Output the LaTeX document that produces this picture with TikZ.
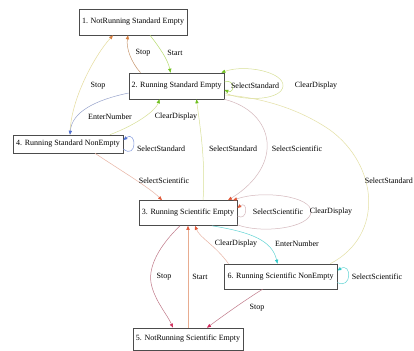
\documentclass[tikz,border=0pt]{standalone}
\usepackage{fontspec}
\setmainfont{Liberation Serif}
\usetikzlibrary{arrows.meta,calc}
\definecolor{cGreen}{HTML}{B8DC70}
\definecolor{cGreenTip}{HTML}{70C020}
\definecolor{cBrown}{HTML}{C89870}
\definecolor{cOrangeTip}{HTML}{D88040}
\definecolor{cPaleYel}{HTML}{E6DC9C}
\definecolor{cBlueLine}{HTML}{98A4CC}
\definecolor{cBlueTip}{HTML}{5070D0}
\definecolor{cYelGreen}{HTML}{D8E098}
\definecolor{cSalmon}{HTML}{E8B4A4}
\definecolor{cRedTip}{HTML}{E05838}
\definecolor{cPinkGray}{HTML}{D4B8BC}
\definecolor{cYellow}{HTML}{E4E0A4}
\definecolor{cCyan}{HTML}{60D4D4}
\definecolor{cCyanTip}{HTML}{30C8C8}
\definecolor{cPlum}{HTML}{C07888}
\definecolor{cCrimson}{HTML}{D02858}
\definecolor{cOrangeLine}{HTML}{E8AC90}
\begin{document}
\begin{tikzpicture}[x=1pt,y=-1pt,
  state/.style={draw=black!70,line width=0.6pt,fill=white,inner sep=0pt,font=\fontsize{8}{9}\selectfont},
  lbl/.style={font=\fontsize{8}{9}\selectfont,inner sep=0pt},
  edge/.style={line width=0.5pt},
  tip/.style={-{Triangle[length=4pt,width=3.2pt,color=#1]}},
]
\clip (0,0) rectangle (414,350);
\fill[white] (0,0) rectangle (414,350);
% states
\node[state,minimum width=108pt,minimum height=26pt] (n1) at (133,22) {1. NotRunning Standard Empty};
\node[state,minimum width=95pt,minimum height=26pt] (n2) at (176.5,86) {2. Running Standard Empty};
\node[state,minimum width=110pt,minimum height=18pt] (n4) at (68,144) {4. Running Standard NonEmpty};
\node[state,minimum width=98pt,minimum height=25pt] (n3) at (188,213) {3. Running Scientific Empty};
\node[state,minimum width=113pt,minimum height=25pt] (n6) at (280.5,276.5) {6. Running Scientific NonEmpty};
\node[state,minimum width=110pt,minimum height=22pt] (n5) at (188,339) {5. NotRunning Scientific Empty};
% named points
\coordinate (n1s1) at ($(n1.south)+(17,0)$);
\coordinate (n1s2) at ($(n1.south)+(-5,0)$);
\coordinate (n1s3) at ($(n1.south)+(-20,0)$);
\coordinate (n2t1) at ($(n2.north)+(-6,0)$);
\coordinate (n2t2) at ($(n2.north)+(-36,0)$);
\coordinate (n2t3) at ($(n2.north east)+(-3,0)$);
\coordinate (n2l) at ($(n2.west)+(0,7)$);
\coordinate (n2b1) at ($(n2.south)+(-17,0)$);
\coordinate (n2b2) at ($(n2.south)+(20,0)$);
\coordinate (n2b3) at ($(n2.south east)+(0,0)$);
\coordinate (n2r1) at ($(n2.east)+(0,-4)$);
\coordinate (n2r2) at ($(n2.east)+(0,4)$);
\coordinate (n2r3) at ($(n2.east)+(1,7)$);
\coordinate (n2r4) at ($(n2.east)+(1,9)$);
\coordinate (n4t1) at ($(n4.north)+(2,0)$);
\coordinate (n4t2) at ($(n4.north)+(42,0)$);
\coordinate (n4b) at ($(n4.south)+(27,0)$);
\coordinate (n4r1) at ($(n4.east)+(0,5)$);
\coordinate (n4r2) at ($(n4.east)+(0,-4)$);
\coordinate (n3t1) at ($(n3.north)+(-26,0)$);
\coordinate (n3t2) at ($(n3.north)+(15,0)$);
\coordinate (n3t3) at ($(n3.north)+(40,0)$);
\coordinate (n3t4) at ($(n3.north)+(45,0)$);
\coordinate (n3r1) at ($(n3.east)+(0,-5)$);
\coordinate (n3r2) at ($(n3.east)+(0,3)$);
\coordinate (n3br) at ($(n3.south east)+(0,-1)$);
\coordinate (n3b1) at ($(n3.south)+(-8,0)$);
\coordinate (n3b2) at ($(n3.south)+(0,0)$);
\coordinate (n3b3) at ($(n3.south)+(7,0)$);
\coordinate (n3b4) at ($(n3.south)+(24,0)$);
\coordinate (n6t1) at ($(n6.north)+(-52,0)$);
\coordinate (n6t2) at ($(n6.north)+(-3,0)$);
\coordinate (n6t3) at ($(n6.north east)+(-7,0)$);
\coordinate (n6r1) at ($(n6.east)+(0,-6)$);
\coordinate (n6r2) at ($(n6.east)+(0,6)$);
\coordinate (n6b) at ($(n6.south)+(-18,0)$);
\coordinate (n5t1) at ($(n5.north)+(-15,0)$);
\coordinate (n5t2) at ($(n5.north)+(0,0)$);
\coordinate (n5t3) at ($(n5.north)+(19,0)$);
% edges
\draw[edge,draw=cGreen,tip={cGreenTip}] (n1s1) .. controls (160,48) and (168,60) .. (n2t1);
\draw[edge,draw=cBrown,tip={cOrangeTip}] (n2t2) .. controls (131,62) and (126,48) .. (n1s2);
\draw[edge,draw=cPaleYel,tip={cOrangeTip}] (n4t1) .. controls (70,100) and (95,55) .. (n1s3);
\draw[edge,draw=cBlueLine,tip={cBlueTip}] (n2l) .. controls (95,100) and (72,112) .. (n4t1);
\draw[edge,draw=cYelGreen,tip={cGreenTip}] (n4t2) .. controls (138,124) and (156,110) .. (n2b1);
\draw[edge,draw=cGreen,tip={cGreenTip}] (n2r1) .. controls (235,78) and (235,94) .. (n2r2);
\draw[edge,draw=cYelGreen,tip={cGreenTip}] (n2r3) .. controls (245,102) and (282,100) .. (283,86) .. controls (284,72) and (245,64) .. (n2t3);
\draw[edge,draw=cBlueTip!70,tip={cBlueTip}] (n4r1) .. controls (137,160) and (137,130) .. (n4r2);
\draw[edge,draw=cSalmon,tip={cRedTip}] (n4b) .. controls (120,170) and (150,188) .. (n3t1);
\draw[edge,draw=cYelGreen,tip={cGreenTip}] (n3t2) .. controls (206,160) and (199,120) .. (n2b2);
\draw[edge,draw=cPinkGray,tip={cRedTip}] (n2b3) .. controls (275,112) and (285,165) .. (n3t3);
\draw[edge,draw=cYellow] (n6t3) .. controls (385,235) and (378,165) .. (330,130) .. controls (295,106) and (255,97) .. (n2r4);
\draw[edge,draw=cPinkGray,tip={cRedTip}] (n3r2) .. controls (248,222) and (248,200) .. (n3r1);
\draw[edge,draw=cPinkGray,tip={cRedTip}] (n3br) .. controls (262,234) and (310,228) .. (311,212) .. controls (312,196) and (262,190) .. (n3t4);
\draw[edge,draw=cSalmon,tip={cRedTip}] (n6t1) .. controls (215,245) and (200,238) .. (n3b3);
\draw[edge,draw=cCyan,tip={cCyanTip}] (n3b4) .. controls (250,232) and (272,240) .. (n6t2);
\draw[edge,draw=cCyan,tip={cCyanTip}] (n6r2) .. controls (352,290) and (352,262) .. (n6r1);
\draw[edge,draw=cPlum,tip={cCrimson}] (n3b1) .. controls (160,245) and (146,268) .. (152,287) .. controls (156,302) and (168,316) .. (n5t1);
\draw[edge,draw=cOrangeLine,tip={cRedTip}] (n5t2) -- (n3b2);
\draw[edge,draw=cPlum,tip={cCrimson}] (n6b) .. controls (245,300) and (220,318) .. (n5t3);
% labels
\node[lbl] (l1) at (175,53) {Start};
\node[lbl] (l2) at (143,53) {Stop};
\node[lbl] (l3) at (98,86) {Stop};
\node[lbl] (l4) at (110,117) {EnterNumber};
\node[lbl] (l5) at (176,117) {ClearDisplay};
\node[lbl] (l6) at (255,86) {SelectStandard};
\node[lbl] (l7) at (316,86) {ClearDisplay};
\node[lbl] (l8) at (161,149) {SelectStandard};
\node[lbl] (l9) at (164,181) {SelectScientific};
\node[lbl] (l10) at (233,149) {SelectStandard};
\node[lbl] (l11) at (297,149) {SelectScientific};
\node[lbl,anchor=east] (l12) at (413,181) {SelectStandard};
\node[lbl] (l13) at (278,212) {SelectScientific};
\node[lbl] (l14) at (331,212) {ClearDisplay};
\node[lbl] (l15) at (236,244) {ClearDisplay};
\node[lbl] (l16) at (297,244) {EnterNumber};
\node[lbl] (l17) at (377,277) {SelectScientific};
\node[lbl] (l18) at (164,277) {Stop};
\node[lbl] (l19) at (200,277) {Start};
\node[lbl] (l20) at (257,308) {Stop};
\end{tikzpicture}
\end{document}
